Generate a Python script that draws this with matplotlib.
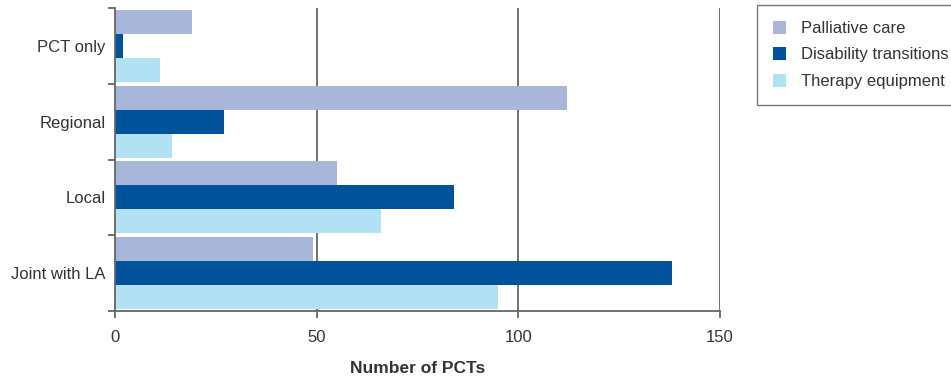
"""
    Number of PCTs by commissioning arrangement
"""

import numpy as np
import matplotlib.pyplot as plt
from matplotlib.patches import Patch

plt.rcParams['font.family'] = ['Liberation Sans', 'DejaVu Sans']

categories = ['PCT only', 'Regional', 'Local', 'Joint with LA']
series = ['Palliative care', 'Disability transitions', 'Therapy equipment']
palliative = [19, 112, 55, 49]
disability = [2, 27, 84, 138]
therapy = [11, 14, 66, 95]
xticks = [0, 50, 100, 150]

colors = ['#a8b6d9', '#00529a', '#b1e1f2']
text_col = '#333333'
axis_col = '#666666'

fig = plt.figure(figsize=(9.51, 3.78), dpi=100)
ax = fig.add_axes([115.3 / 951, 1 - 311 / 378, (720 - 115.3) / 951, 303 / 378])

y = np.arange(len(categories))
h = 0.95 / 3
for i, vals in enumerate([palliative, disability, therapy]):
    ax.barh(y - h + i * h, vals, height=h, color=colors[i], zorder=2)

ax.set_xlim(0, 150)
ax.set_ylim(len(categories) - 0.5, -0.5)

# vertical grid lines
for xv in xticks[1:]:
    ax.axvline(xv, color=axis_col, lw=1.3, zorder=1)

for s in ['top', 'right']:
    ax.spines[s].set_visible(False)
for s in ['left', 'bottom']:
    ax.spines[s].set_color(axis_col)
    ax.spines[s].set_linewidth(1.3)

ax.set_xticks(xticks)
ax.set_xticklabels([str(v) for v in xticks])
ax.tick_params(axis='x', direction='out', length=5, width=1.3, color=axis_col,
               labelsize=12, labelcolor=text_col, pad=9)

# ticks at group boundaries, labels at group centres
ax.set_yticks(np.arange(-0.5, len(categories)), minor=False)
ax.set_yticklabels([])
ax.set_yticks(y, minor=True)
ax.set_yticklabels(categories, minor=True)
ax.tick_params(axis='y', which='major', direction='out', length=5, width=1.3,
               color=axis_col)
ax.tick_params(axis='y', which='minor', length=0, labelsize=12,
               labelcolor=text_col, pad=7)

ax.set_xlabel('Number of PCTs', fontsize=12.5, fontweight='bold',
              color=text_col, labelpad=11)

handles = [Patch(facecolor=c, edgecolor='none') for c in colors]
leg = fig.legend(handles, series, loc='upper left',
                 bbox_to_anchor=(757 / 951, 1 - 5 / 378),
                 fontsize=12, frameon=True, fancybox=False,
                 handlelength=0.8, handleheight=0.8, handletextpad=0.9,
                 labelspacing=0.68, borderpad=0.95, borderaxespad=0)
leg.get_frame().set_edgecolor('#555555')
leg.get_frame().set_linewidth(1.0)
for t in leg.get_texts():
    t.set_color(text_col)

fig.savefig('out.png', dpi=100)
